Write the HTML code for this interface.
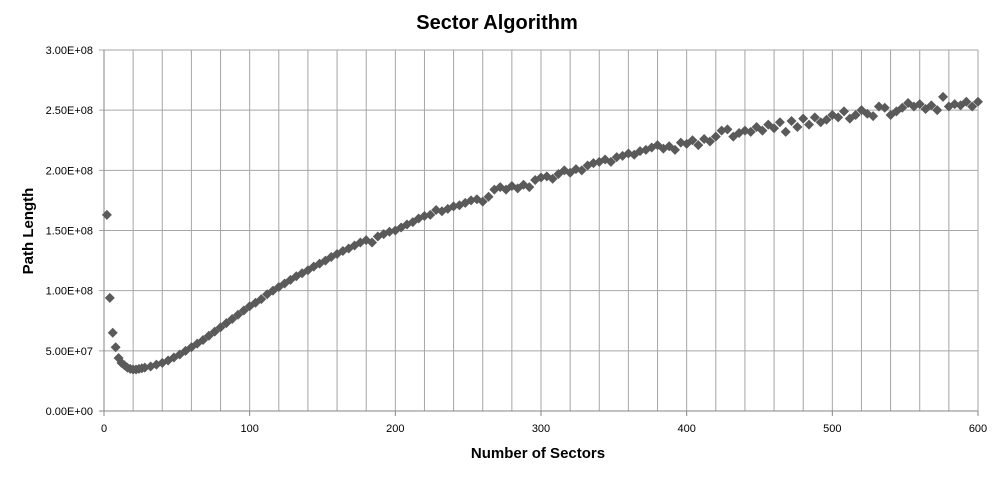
<!DOCTYPE html>
<html><head><meta charset="utf-8"><style>
body{margin:0;background:#fff;}
svg{display:block;font-family:"Liberation Sans",Arial,sans-serif;}
</style></head><body>
<svg id="chart" width="997" height="477">
<text x="497" y="29" text-anchor="middle" font-size="20" font-weight="bold">Sector Algorithm</text>
<text x="538" y="458" text-anchor="middle" font-size="15" font-weight="bold">Number of Sectors</text>
<text transform="translate(33,231) rotate(-90)" text-anchor="middle" font-size="15" font-weight="bold">Path Length</text>
<g id="grid"></g><g id="ticks"></g><g id="marks"></g>
</svg>
<script>
const xs=[2,4,6,8,10,12,14,16,18,20,22,24,26,28,32,36,40,44,48,52,56,60,64,68,72,76,80,84,88,92,96,100,104,108,112,116,120,124,128,132,136,140,144,148,152,156,160,164,168,172,176,180,184,188,192,196,200,204,208,212,216,220,224,228,232,236,240,244,248,252,256,260,264,268,272,276,280,284,288,292,296,300,304,308,312,316,320,324,328,332,336,340,344,348,352,356,360,364,368,372,376,380,384,388,392,396,400,404,408,412,416,420,424,428,432,436,440,444,448,452,456,460,464,468,472,476,480,484,488,492,496,500,504,508,512,516,520,524,528,532,536,540,544,548,552,556,560,564,568,572,576,580,584,588,592,596,600];
const ys=[163,94,65,53,44,40,38,36,35,34.5,34.5,35,35.5,36,37,38.5,40,42,44.5,47,50,53,56,59,62.5,66,69.5,73,76.5,80,83.5,87,90,93,97,100,103,106,109,112,114.5,117,120,122.5,125,128,130.5,133,135,137.5,140,142,140,145,147,149,150,152.5,155,157,160,162,163,167,166,168,170,171,173,175,176,174,178,184,186,184,187,185,188,186,192,194,195,193,197,200,198,201,200,204,206,207,209,207,211,212,214,213,216,217,219,221,218,220,217,223,222,225,221,226,224,228,233,234,228,231,233,232,236,233,238,235,240,232,241,236,243,238,244,240,242,246,244,249,243,246,250,247,245,253,252,246,249,252,256,253,255,251,254,250,261,253,255,254,257,253,257];
const yTicks=[0,50,100,150,200,250,300];
const yTickLabels=["0.00E+00","5.00E+07","1.00E+08","1.50E+08","2.00E+08","2.50E+08","3.00E+08"];
const xTicks=[0,100,200,300,400,500,600];
const NS="http://www.w3.org/2000/svg";
const X0=104,X1=978,Y0=411,Y1=50;
const sx=v=>X0+(v/600)*(X1-X0);
const sy=v=>Y0-(v/300)*(Y0-Y1);
function mk(tag,attrs,parent){const e=document.createElementNS(NS,tag);for(const k in attrs)e.setAttribute(k,attrs[k]);parent.appendChild(e);return e;}
const grid=document.getElementById('grid'),ticks=document.getElementById('ticks'),marks=document.getElementById('marks');
for(let v=20;v<=600;v+=20){const l=mk('line',{x1:sx(v),x2:sx(v),y1:Y1,y2:Y0,stroke:'#a6a6a6','stroke-width':1},grid);

}
yTicks.forEach((v,i)=>{const l=mk('line',{x1:X0-5,x2:X1,y1:sy(v),y2:sy(v),stroke:i==0?'#868686':'#a6a6a6','stroke-width':1},grid);


const t=mk('text',{x:93,y:sy(v)+4,'text-anchor':'end','font-size':11},ticks);t.textContent=yTickLabels[i];

});
const ax=mk('line',{x1:X0,x2:X0,y1:Y1,y2:Y0+5,stroke:'#868686'},grid);


xTicks.forEach(v=>{mk('line',{x1:sx(v),x2:sx(v),y1:Y0,y2:Y0+5,stroke:'#868686'},grid);
const t=mk('text',{x:sx(v),y:432,'text-anchor':'middle','font-size':11},ticks);t.textContent=v;

});
xs.forEach((x,i)=>{const cx=sx(x),cy=sy(ys[i]);
const p=mk('polygon',{points:`${cx},${cy-5} ${cx+5},${cy} ${cx},${cy+5} ${cx-5},${cy}`,fill:'#5a5a5a'},marks);

});
</script>
</body></html>
